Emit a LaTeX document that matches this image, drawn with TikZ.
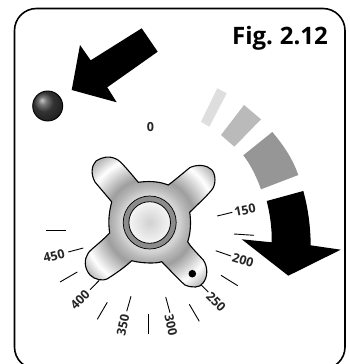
\documentclass[tikz,border=0pt]{standalone}
\usepackage{fontspec}
\setmainfont{Open Sans}
\definecolor{knA}{gray}{0.82}
\definecolor{knB}{gray}{0.83}
\definecolor{knC}{gray}{0.72}
\definecolor{knD}{gray}{0.62}
\definecolor{knE}{gray}{1.0}
\definecolor{knF}{gray}{0.74}
\definecolor{knG}{gray}{0.70}
\definecolor{blA}{gray}{0.78}
\definecolor{blB}{gray}{0.45}
\definecolor{blC}{gray}{0.20}
\definecolor{blD}{gray}{0.12}
\definecolor{blE}{gray}{0.30}
\definecolor{caA}{gray}{0.82}
\definecolor{caB}{gray}{0.96}
\pgfdeclareradialshading{knobshade}{\pgfpoint{0bp}{0bp}}{%
 color(0bp)=(knA);
 color(8bp)=(knB);
 color(10bp)=(knC);
 color(12.5bp)=(knD);
 color(18.6bp)=(knE);
 color(22bp)=(knF);
 color(25bp)=(knG);
 color(50bp)=(knG)}
\pgfdeclareradialshading{ballshade}{\pgfpoint{-10bp}{10bp}}{%
 color(0bp)=(blA);
 color(7bp)=(blB);
 color(16bp)=(blC);
 color(30bp)=(blD);
 color(39bp)=(blE);
 color(50bp)=(blE)}
\pgfdeclareradialshading{capshade}{\pgfpoint{0bp}{0bp}}{%
 color(0bp)=(caA);
 color(25bp)=(caB);
 color(50bp)=(caB)}
\tikzset{
 tick/.style={draw=black,line width=0.9pt},
 lab/.style={font=\bfseries\fontsize{12.5}{12.5}\selectfont,text=black!85,inner sep=0pt},
 blackarrow/.style={fill=black,draw=none},
}
\begin{document}
\begin{tikzpicture}[x=1pt,y=-1pt]
\useasboundingbox (0,0) rectangle (350,364);
\fill[white] (0,0) rectangle (350,364);
% frame
\begin{scope}
\clip (0,0) rectangle (350,364);
\draw[line width=1.6pt,rounded corners=22pt] (14.5,369) -- (14.5,8.5) -- (345,8.5) -- (345,369) -- cycle;
\end{scope}
% caption
\node[font=\bfseries\fontsize{24}{24}\selectfont,inner sep=0pt] (cap) at (280,38) {Fig.\kern-1.5pt{} 2.12};
% top arrow
\fill[blackarrow] (141.7,28.3) -- (157.7,51.7) -- (107.3,87.3) -- (116.7,102.3) -- (71.7,90) -- (80,45) -- (90.7,60.3) -- cycle;
% ball
\shade[shading=ballshade] (47.7,106) circle (15);
\draw[line width=0.9pt] (47.7,106) circle (15);
% zero
\node[lab] (z) at (150.5,127) {0};
% grey segments
\fill[black!13] (217.3,88.3) -- (226.7,93.3) -- (209.3,126.7) -- (201,121.7) -- cycle;
\fill[black!27] (244,105) -- (261,119.3) -- (234.3,146.7) -- (221,135) -- cycle;
\fill[black!41] (272.3,132) .. controls (285,147) and (293,160) .. (298.3,175) -- (261,189.3) .. controls (257,178) and (251,165) .. (243.3,155.3) -- cycle;
% down arrow
\fill[blackarrow] (266.7,201) -- (303.3,191) .. controls (308,208) and (310.5,226) .. (310.7,245.3) -- (340.7,249.7) -- (288.3,275.7) -- (241.7,239.3) -- (271.7,242.3) .. controls (272,228) and (270,214) .. (266.7,201) -- cycle;
% knob
\def\knobpath{(138.3,182.3) .. controls (128,170) and (122,163) .. (118,160) .. controls (110,155) and (102,157) .. (96,161) .. controls (91,166) and (91,175) .. (95,182) .. controls (105,194) and (112,202) .. (111.7,202) .. controls (109,212) and (108,222) .. (109.7,233) .. controls (100,243) and (90,250) .. (88.3,253) .. controls (84,259) and (84,268) .. (90,275) .. controls (95,280) and (103,281) .. (107,279) .. controls (118,272) and (125,267) .. (131.7,260.7) .. controls (140,263) and (155,264) .. (161.7,261.7) .. controls (170,270) and (178,279) .. (185,285) .. controls (192,288) and (200,288) .. (203,283) .. controls (208,277) and (208,267) .. (203.3,260) .. controls (195,251) and (190,246) .. (187.7,241.7) .. controls (191,232) and (191,220) .. (189.7,212.3) .. controls (198,204) and (205,198) .. (211.7,190) .. controls (216,185) and (216,175) .. (212,170) .. controls (207,165) and (198,164) .. (190,167.5) .. controls (182,174) and (175,180) .. (168.3,185) .. controls (158,181) and (148,181) .. (138.3,182.3) -- cycle}
\begin{scope}
\clip \knobpath;
\shade[shading=knobshade] (150,222.7) circle (90);
\end{scope}
\draw[line width=1.1pt,line join=round] \knobpath;
\fill[black!45] (149.7,222.5) circle (26.5);
\draw[line width=0.7pt,black] (149.7,222.5) circle (26.5);
\shade[shading=capshade] (149.7,222.5) circle (20.8);
\draw[line width=0.8pt] (149.7,222.5) circle (20.8);
\fill[black] (192.3,273.7) circle (3.8);
% ticks
\draw[tick] (46,230.7) -- (66,230.7);
\draw[tick] (68.3,252) -- (83.3,248);
\draw[tick] (60,282) -- (77.3,272);
\draw[tick] (90,289.7) -- (99.3,280.3);
\draw[tick] (97.3,319.3) -- (107.3,302.3);
\draw[tick] (126.7,311.3) -- (131,296.3);
\draw[tick] (148,333.7) -- (148,314);
\draw[tick] (165.7,297) -- (170,312.7);
\draw[tick] (189.3,304.3) -- (199.3,321.3);
\draw[tick] (201,284.7) -- (208.3,292);
\draw[tick] (221,275.3) -- (237.7,285.7);
\draw[tick] (215.7,250.7) -- (231,256);
\draw[tick] (234,234) -- (254,235.3);
\draw[tick] (217.3,216) -- (232.3,212.3);
% labels
\node[lab,rotate=11] (l150) at (245,210) {150};
\node[lab,rotate=-17] (l200) at (243,260) {200};
\node[lab,rotate=-45] (l250) at (216,302) {250};
\node[lab,rotate=-78] (l300) at (171,325) {300};
\node[lab,rotate=78] (l350) at (123,325) {350};
\node[lab,rotate=45] (l400) at (80,300) {400};
\node[lab,rotate=14] (l450) at (54,256) {450};
\end{tikzpicture}
\end{document}
